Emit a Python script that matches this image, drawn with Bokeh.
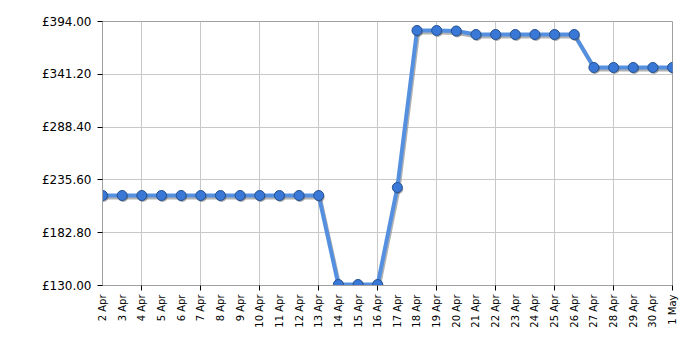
from bokeh.plotting import figure
from bokeh.models import ColumnDataSource, FixedTicker, PrintfTickFormatter, Range1d
from bokeh.transform import dodge
from bokeh.embed import file_html
from bokeh.resources import INLINE
import math

dates = ["2 Apr", "3 Apr", "4 Apr", "5 Apr", "6 Apr", "7 Apr", "8 Apr", "9 Apr", "10 Apr",
         "11 Apr", "12 Apr", "13 Apr", "14 Apr", "15 Apr", "16 Apr", "17 Apr", "18 Apr",
         "19 Apr", "20 Apr", "21 Apr", "22 Apr", "23 Apr", "24 Apr", "25 Apr", "26 Apr",
         "27 Apr", "28 Apr", "29 Apr", "30 Apr", "1 May"]
prices = [220, 220, 220, 220, 220, 220, 220, 220, 220, 220, 220, 220,
          131, 131, 131, 228, 385, 385, 384.5, 381, 381, 381, 381, 381, 381,
          348, 348, 348, 348, 348]
y_ticks = [130.0, 182.8, 235.6, 288.4, 341.2, 394.0]

xs = list(range(len(dates)))
src = ColumnDataSource(data=dict(x=xs, y=prices))

p = figure(width=700, height=350, output_backend="svg", toolbar_location=None,
           x_range=Range1d(0, len(dates) - 1), y_range=Range1d(y_ticks[0], y_ticks[-1]),
           min_border_left=102, min_border_right=28, min_border_top=21, min_border_bottom=65)

p.outline_line_color = "#a0a0a0"
p.outline_line_width = 1

grid_pos = [i for i in xs if (i + 1) % 3 == 0]

# x axis
p.xaxis.ticker = FixedTicker(ticks=xs, minor_ticks=grid_pos)
p.xaxis.major_label_overrides = {i: d for i, d in enumerate(dates)}
p.xaxis.major_label_orientation = math.pi / 2
p.xaxis.major_tick_out = 0
p.xaxis.major_tick_in = 0
p.xaxis.minor_tick_out = 5
p.xaxis.minor_tick_in = 0
p.xaxis.minor_tick_line_color = "black"
p.xaxis.axis_line_color = "#a0a0a0"
p.xaxis.major_label_text_font = "DejaVu Sans"
p.xaxis.major_label_text_font_size = "10px"
p.xaxis.major_label_text_color = "black"
p.xaxis.major_label_standoff = 4

# y axis
p.yaxis.ticker = FixedTicker(ticks=y_ticks)
p.yaxis.formatter = PrintfTickFormatter(format="£%.2f")
p.yaxis.major_tick_out = 5
p.yaxis.major_tick_in = 0
p.yaxis.major_tick_line_color = "black"
p.yaxis.minor_tick_line_color = None
p.yaxis.axis_line_color = "#a0a0a0"
p.yaxis.major_label_text_font = "DejaVu Sans"
p.yaxis.major_label_text_font_size = "12px"
p.yaxis.major_label_text_color = "black"
p.yaxis.major_label_standoff = 6

p.xgrid.ticker = FixedTicker(ticks=grid_pos)
p.xgrid.grid_line_color = "#c8c8c8"
p.ygrid.grid_line_color = "#c8c8c8"

# shadow
p.line(x=dodge("x", 0.06, range=p.x_range), y=dodge("y", -2.0, range=p.y_range), source=src,
       line_color="#808080", line_width=4, line_alpha=0.6, line_join="round")
p.line(x="x", y="y", source=src, line_color="#5590e0", line_width=4, line_join="round")
p.scatter(x=dodge("x", 0.05, range=p.x_range), y=dodge("y", -1.5, range=p.y_range), source=src,
          size=10, fill_color="#555555", fill_alpha=0.5, line_color=None)
p.scatter(x="x", y="y", source=src, size=10, fill_color="#3a78d8",
          line_color="#23508f", line_width=1)

open("out.html", "w").write(file_html(p, INLINE))
